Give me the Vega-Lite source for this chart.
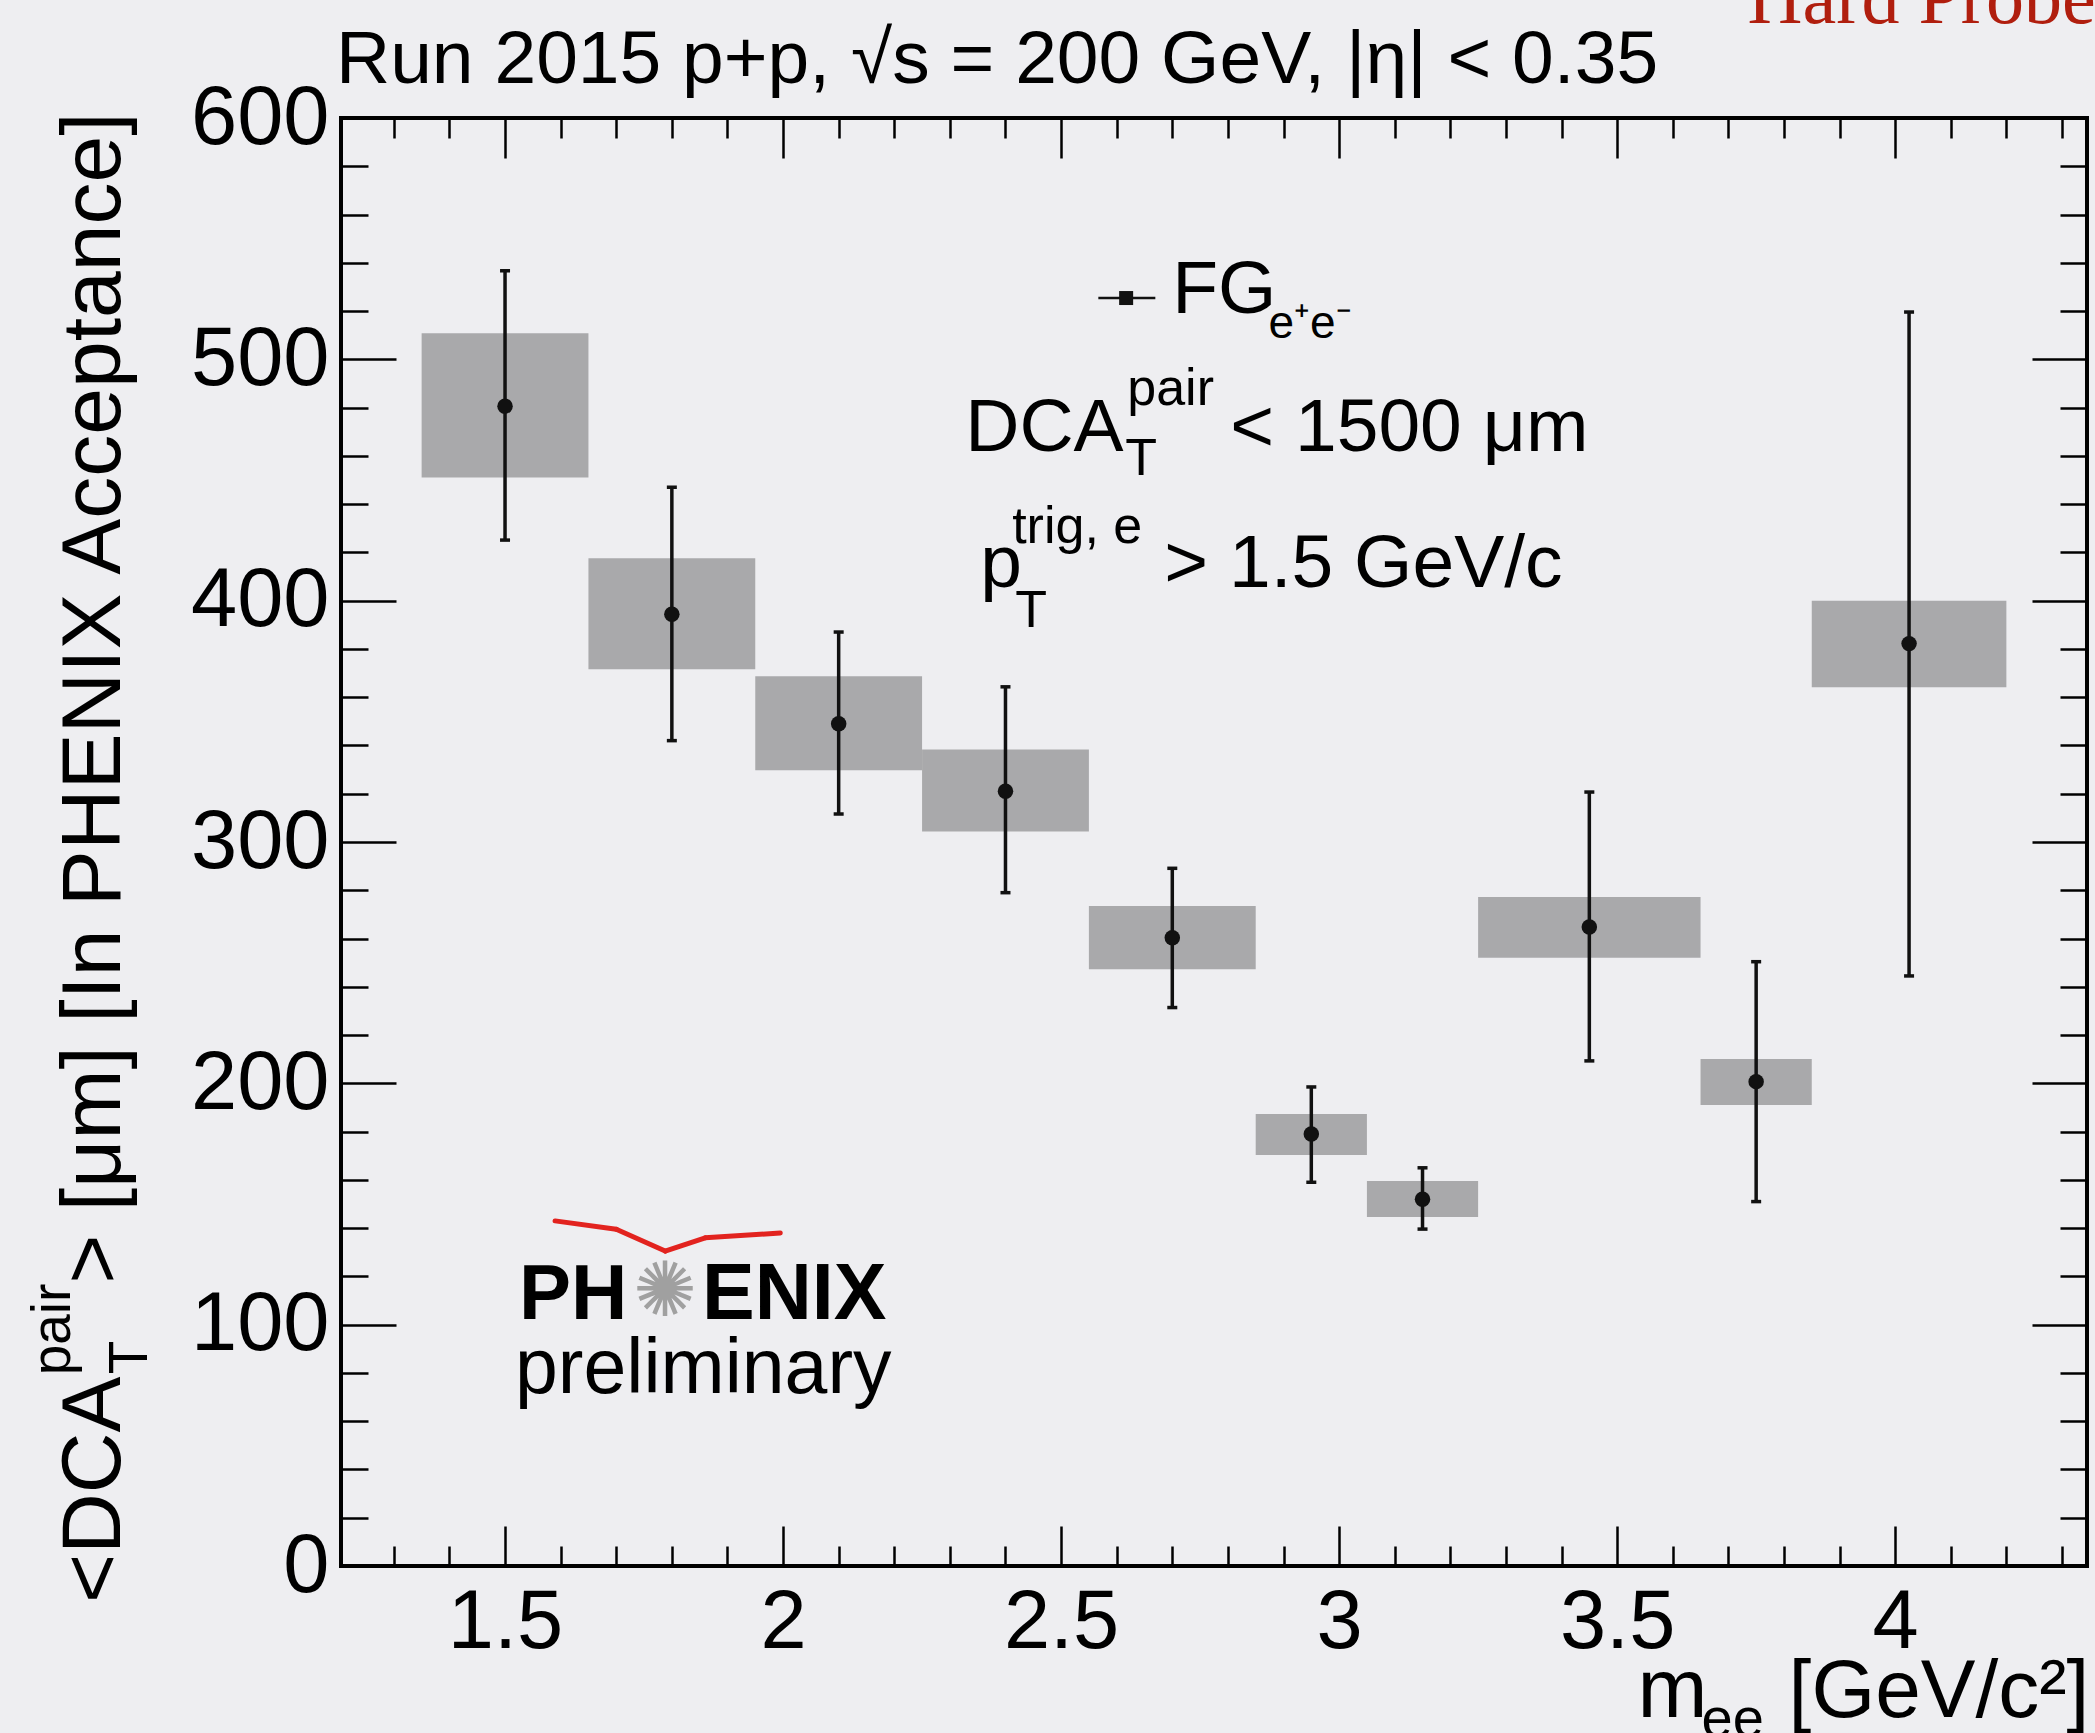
{
  "$schema": "https://vega.github.io/schema/vega-lite/v6.json",
  "width": 1746,
  "height": 1448,
  "autosize": "none",
  "padding": {"left": 341, "top": 118, "right": 8, "bottom": 167},
  "background": "#eeeef1",
  "config": {
    "view": {"stroke": "#000000", "strokeWidth": 4},
    "text": {"font": "Liberation Sans", "color": "#000000", "align": "left", "baseline": "alphabetic"}
  },
  "datasets": {
    "pts": [
      {"m": 1.5, "dca": 480.6, "stat_lo": 425.1, "stat_hi": 536.7, "m_lo": 1.35, "m_hi": 1.65, "sys_lo": 451.0, "sys_hi": 510.8},
      {"m": 1.8, "dca": 394.4, "stat_lo": 342.0, "stat_hi": 447.0, "m_lo": 1.65, "m_hi": 1.95, "sys_lo": 371.6, "sys_hi": 417.6},
      {"m": 2.1, "dca": 349.0, "stat_lo": 311.6, "stat_hi": 387.0, "m_lo": 1.95, "m_hi": 2.25, "sys_lo": 329.7, "sys_hi": 368.7},
      {"m": 2.4, "dca": 321.0, "stat_lo": 279.0, "stat_hi": 364.3, "m_lo": 2.25, "m_hi": 2.55, "sys_lo": 304.4, "sys_hi": 338.3},
      {"m": 2.7, "dca": 260.3, "stat_lo": 231.4, "stat_hi": 289.1, "m_lo": 2.55, "m_hi": 2.85, "sys_lo": 247.3, "sys_hi": 273.5},
      {"m": 2.95, "dca": 179.0, "stat_lo": 159.0, "stat_hi": 198.5, "m_lo": 2.85, "m_hi": 3.05, "sys_lo": 170.3, "sys_hi": 187.3},
      {"m": 3.15, "dca": 152.0, "stat_lo": 139.6, "stat_hi": 165.0, "m_lo": 3.05, "m_hi": 3.25, "sys_lo": 144.6, "sys_hi": 159.5},
      {"m": 3.45, "dca": 264.8, "stat_lo": 209.3, "stat_hi": 320.7, "m_lo": 3.25, "m_hi": 3.65, "sys_lo": 252.0, "sys_hi": 277.2},
      {"m": 3.75, "dca": 200.7, "stat_lo": 151.0, "stat_hi": 250.4, "m_lo": 3.65, "m_hi": 3.85, "sys_lo": 191.0, "sys_hi": 210.1},
      {"m": 4.025, "dca": 382.2, "stat_lo": 244.5, "stat_hi": 519.6, "m_lo": 3.85, "m_hi": 4.2, "sys_lo": 364.1, "sys_hi": 400.0}
    ]
  },
  "resolve": {"axis": {"x": "independent", "y": "independent"}},
  "layer": [
    {
      "data": {"name": "pts"},
      "mark": {"type": "rect", "fill": "#a9a9ab", "stroke": null},
      "encoding": {
        "x": {"field": "m_lo", "type": "quantitative",
          "scale": {"domain": [1.205, 4.345], "nice": false, "zero": false},
          "axis": {
            "orient": "bottom", "title": null, "domain": false, "grid": false,
            "values": [1.3,1.4,1.5,1.6,1.7,1.8,1.9,2.0,2.1,2.2,2.3,2.4,2.5,2.6,2.7,2.8,2.9,3.0,3.1,3.2,3.3,3.4,3.5,3.6,3.7,3.8,3.9,4.0,4.1,4.2,4.3],
            "tickColor": "#000000", "tickWidth": 2.5,
            "tickSize": {"condition": {"test": "abs(datum.value*2-round(datum.value*2))<0.001", "value": -40}, "value": -20},
            "labelExpr": "abs(datum.value*2-round(datum.value*2))<0.001 ? format(datum.value, '~g') : ''",
            "labelFont": "Liberation Sans", "labelFontSize": 83, "labelColor": "#000000",
            "labelPadding": 55, "labelFlush": false, "labelOverlap": false, "labelBound": false, "labelBaseline": "top"
          }
        },
        "x2": {"field": "m_hi"},
        "y": {"field": "sys_lo", "type": "quantitative",
          "scale": {"domain": [0, 600], "nice": false, "zero": false},
          "axis": {
            "orient": "left", "title": null, "domain": false, "grid": false,
            "values": [0,20,40,60,80,100,120,140,160,180,200,220,240,260,280,300,320,340,360,380,400,420,440,460,480,500,520,540,560,580,600],
            "tickColor": "#000000", "tickWidth": 2.5,
            "tickSize": {"condition": {"test": "datum.value % 100 === 0", "value": -55}, "value": -27},
            "labelExpr": "datum.value % 100 === 0 ? format(datum.value, '~g') : ''",
            "labelFont": "Liberation Sans", "labelFontSize": 83, "labelColor": "#000000",
            "labelPadding": 67, "labelFlush": false, "labelOverlap": false, "labelBound": false
          }
        },
        "y2": {"field": "sys_hi"}
      }
    },
    {
      "data": {"name": "pts"},
      "mark": {"type": "rule", "color": "#111111", "strokeWidth": 3.5},
      "encoding": {
        "x": {"field": "m", "type": "quantitative",
          "axis": {
            "orient": "top", "title": null, "domain": false, "grid": false, "labels": false,
            "values": [1.3,1.4,1.5,1.6,1.7,1.8,1.9,2.0,2.1,2.2,2.3,2.4,2.5,2.6,2.7,2.8,2.9,3.0,3.1,3.2,3.3,3.4,3.5,3.6,3.7,3.8,3.9,4.0,4.1,4.2,4.3],
            "tickColor": "#000000", "tickWidth": 2.5,
            "tickSize": {"condition": {"test": "abs(datum.value*2-round(datum.value*2))<0.001", "value": -40}, "value": -20}
          }
        },
        "y": {"field": "stat_lo", "type": "quantitative",
          "axis": {
            "orient": "right", "title": null, "domain": false, "grid": false, "labels": false,
            "values": [0,20,40,60,80,100,120,140,160,180,200,220,240,260,280,300,320,340,360,380,400,420,440,460,480,500,520,540,560,580,600],
            "tickColor": "#000000", "tickWidth": 2.5,
            "tickSize": {"condition": {"test": "datum.value % 100 === 0", "value": -55}, "value": -27}
          }
        },
        "y2": {"field": "stat_hi"}
      }
    },
    {
      "data": {"name": "pts"},
      "mark": {"type": "tick", "orient": "horizontal", "size": 10, "thickness": 3.5, "color": "#111111", "opacity": 1},
      "encoding": {
        "x": {"field": "m", "type": "quantitative", "axis": null},
        "y": {"field": "stat_hi", "type": "quantitative", "axis": null}
      }
    },
    {
      "data": {"name": "pts"},
      "mark": {"type": "tick", "orient": "horizontal", "size": 10, "thickness": 3.5, "color": "#111111", "opacity": 1},
      "encoding": {
        "x": {"field": "m", "type": "quantitative", "axis": null},
        "y": {"field": "stat_lo", "type": "quantitative", "axis": null}
      }
    },
    {
      "data": {"name": "pts"},
      "mark": {"type": "circle", "size": 240, "color": "#111111", "opacity": 1},
      "encoding": {
        "x": {"field": "m", "type": "quantitative", "axis": null},
        "y": {"field": "dca", "type": "quantitative", "axis": null}
      }
    },
    {
      "data": {"values": [{}]},
      "mark": {"type": "rule", "color": "#111111", "strokeWidth": 2.5},
      "encoding": {
        "x": {"datum": 2.567, "type": "quantitative", "axis": null},
        "x2": {"datum": 2.6695},
        "y": {"datum": 525.4, "type": "quantitative", "axis": null}
      }
    },
    {
      "data": {"values": [{}]},
      "mark": {"type": "square", "size": 196, "color": "#111111", "opacity": 1},
      "encoding": {
        "x": {"datum": 2.617, "type": "quantitative", "axis": null},
        "y": {"datum": 525.4, "type": "quantitative", "axis": null}
      }
    },
    {
      "data": {"values": [{}]},
      "mark": {"type": "rule", "color": "#e2231f", "strokeWidth": 5, "strokeCap": "round"},
      "encoding": {
        "x": {"datum": 1.590, "type": "quantitative", "axis": null},
        "x2": {"datum": 1.70},
        "y": {"datum": 143.0, "type": "quantitative", "axis": null},
        "y2": {"datum": 139.5}
      }
    },
    {
      "data": {"values": [{}]},
      "mark": {"type": "rule", "color": "#e2231f", "strokeWidth": 5, "strokeCap": "round"},
      "encoding": {
        "x": {"datum": 1.70, "type": "quantitative", "axis": null},
        "x2": {"datum": 1.788},
        "y": {"datum": 139.5, "type": "quantitative", "axis": null},
        "y2": {"datum": 130.5}
      }
    },
    {
      "data": {"values": [{}]},
      "mark": {"type": "rule", "color": "#e2231f", "strokeWidth": 5, "strokeCap": "round"},
      "encoding": {
        "x": {"datum": 1.788, "type": "quantitative", "axis": null},
        "x2": {"datum": 1.86},
        "y": {"datum": 130.5, "type": "quantitative", "axis": null},
        "y2": {"datum": 136.0}
      }
    },
    {
      "data": {"values": [{}]},
      "mark": {"type": "rule", "color": "#e2231f", "strokeWidth": 5, "strokeCap": "round"},
      "encoding": {
        "x": {"datum": 1.86, "type": "quantitative", "axis": null},
        "x2": {"datum": 1.995},
        "y": {"datum": 136.0, "type": "quantitative", "axis": null},
        "y2": {"datum": 138.0}
      }
    },
    {
      "data": {"values": [{}]},
      "mark": {"type": "text", "fontSize": 75},
      "encoding": {
        "x": {"datum": 1.196, "type": "quantitative", "axis": null},
        "y": {"datum": 614.5, "type": "quantitative", "axis": null},
        "text": {"value": "Run 2015 p+p, √s = 200 GeV, |η| < 0.35"}
      }
    },
    {
      "data": {"values": [{}]},
      "mark": {"type": "text", "fontSize": 76, "font": "Liberation Serif", "color": "#b01e0e"},
      "encoding": {
        "x": {"datum": 3.7346, "type": "quantitative", "axis": null},
        "y": {"datum": 639.4, "type": "quantitative", "axis": null},
        "text": {"value": "Hard Probes"}
      }
    },
    {
      "data": {"values": [{}]},
      "mark": {"type": "text", "fontSize": 75},
      "encoding": {
        "x": {"datum": 2.700, "type": "quantitative", "axis": null},
        "y": {"datum": 519.2, "type": "quantitative", "axis": null},
        "text": {"value": "FG"}
      }
    },
    {
      "data": {"values": [{}]},
      "mark": {"type": "text", "fontSize": 46},
      "encoding": {
        "x": {"datum": 2.8728, "type": "quantitative", "axis": null},
        "y": {"datum": 509.0, "type": "quantitative", "axis": null},
        "text": {"value": "e⁺e⁻"}
      }
    },
    {
      "data": {"values": [{}]},
      "mark": {"type": "text", "fontSize": 75},
      "encoding": {
        "x": {"datum": 2.3276, "type": "quantitative", "axis": null},
        "y": {"datum": 462.0, "type": "quantitative", "axis": null},
        "text": {"value": "DCA"}
      }
    },
    {
      "data": {"values": [{}]},
      "mark": {"type": "text", "fontSize": 52},
      "encoding": {
        "x": {"datum": 2.6155, "type": "quantitative", "axis": null},
        "y": {"datum": 452.1, "type": "quantitative", "axis": null},
        "text": {"value": "T"}
      }
    },
    {
      "data": {"values": [{}]},
      "mark": {"type": "text", "fontSize": 52},
      "encoding": {
        "x": {"datum": 2.619, "type": "quantitative", "axis": null},
        "y": {"datum": 481.1, "type": "quantitative", "axis": null},
        "text": {"value": "pair"}
      }
    },
    {
      "data": {"values": [{}]},
      "mark": {"type": "text", "fontSize": 75},
      "encoding": {
        "x": {"datum": 2.8044, "type": "quantitative", "axis": null},
        "y": {"datum": 462.0, "type": "quantitative", "axis": null},
        "text": {"value": "< 1500 μm"}
      }
    },
    {
      "data": {"values": [{}]},
      "mark": {"type": "text", "fontSize": 75},
      "encoding": {
        "x": {"datum": 2.3546, "type": "quantitative", "axis": null},
        "y": {"datum": 405.7, "type": "quantitative", "axis": null},
        "text": {"value": "p"}
      }
    },
    {
      "data": {"values": [{}]},
      "mark": {"type": "text", "fontSize": 52},
      "encoding": {
        "x": {"datum": 2.4176, "type": "quantitative", "axis": null},
        "y": {"datum": 389.1, "type": "quantitative", "axis": null},
        "text": {"value": "T"}
      }
    },
    {
      "data": {"values": [{}]},
      "mark": {"type": "text", "fontSize": 52},
      "encoding": {
        "x": {"datum": 2.412, "type": "quantitative", "axis": null},
        "y": {"datum": 423.9, "type": "quantitative", "axis": null},
        "text": {"value": "trig, e"}
      }
    },
    {
      "data": {"values": [{}]},
      "mark": {"type": "text", "fontSize": 75},
      "encoding": {
        "x": {"datum": 2.6857, "type": "quantitative", "axis": null},
        "y": {"datum": 405.7, "type": "quantitative", "axis": null},
        "text": {"value": "> 1.5 GeV/c"}
      }
    },
    {
      "data": {"values": [{}]},
      "mark": {"type": "text", "fontSize": 78, "fontWeight": "bold"},
      "encoding": {
        "x": {"datum": 1.5250, "type": "quantitative", "axis": null},
        "y": {"datum": 102.3, "type": "quantitative", "axis": null},
        "text": {"value": "PH"}
      }
    },
    {
      "data": {"values": [{}]},
      "mark": {"type": "text", "fontSize": 76, "font": "DejaVu Sans", "color": "#a0a0a0", "align": "center", "baseline": "middle"},
      "encoding": {
        "x": {"datum": 1.788, "type": "quantitative", "axis": null},
        "y": {"datum": 113.1, "type": "quantitative", "axis": null},
        "text": {"value": "✺"}
      }
    },
    {
      "data": {"values": [{}]},
      "mark": {"type": "text", "fontSize": 79, "fontWeight": "bold"},
      "encoding": {
        "x": {"datum": 1.8544, "type": "quantitative", "axis": null},
        "y": {"datum": 102.3, "type": "quantitative", "axis": null},
        "text": {"value": "ENIX"}
      }
    },
    {
      "data": {"values": [{}]},
      "mark": {"type": "text", "fontSize": 77},
      "encoding": {
        "x": {"datum": 1.5180, "type": "quantitative", "axis": null},
        "y": {"datum": 71.7, "type": "quantitative", "axis": null},
        "text": {"value": "preliminary"}
      }
    },
    {
      "data": {"values": [{}]},
      "mark": {"type": "text", "fontSize": 84, "angle": 270},
      "encoding": {
        "x": {"datum": 0.8073, "type": "quantitative", "axis": null},
        "y": {"datum": -15.33, "type": "quantitative", "axis": null},
        "text": {"value": "<DCA"}
      }
    },
    {
      "data": {"values": [{}]},
      "mark": {"type": "text", "fontSize": 55, "angle": 270},
      "encoding": {
        "x": {"datum": 0.8559, "type": "quantitative", "axis": null},
        "y": {"datum": 79.5, "type": "quantitative", "axis": null},
        "text": {"value": "T"}
      }
    },
    {
      "data": {"values": [{}]},
      "mark": {"type": "text", "fontSize": 55, "angle": 270},
      "encoding": {
        "x": {"datum": 0.7173, "type": "quantitative", "axis": null},
        "y": {"datum": 79.0, "type": "quantitative", "axis": null},
        "text": {"value": "pair"}
      }
    },
    {
      "data": {"values": [{}]},
      "mark": {"type": "text", "fontSize": 84, "angle": 270},
      "encoding": {
        "x": {"datum": 0.8073, "type": "quantitative", "axis": null},
        "y": {"datum": 117.0, "type": "quantitative", "axis": null},
        "text": {"value": "> [μm] [In PHENIX Acceptance]"}
      }
    },
    {
      "data": {"values": [{}]},
      "mark": {"type": "text", "fontSize": 84},
      "encoding": {
        "x": {"datum": 3.5367, "type": "quantitative", "axis": null},
        "y": {"datum": -62.57, "type": "quantitative", "axis": null},
        "text": {"value": "m"}
      }
    },
    {
      "data": {"values": [{}]},
      "mark": {"type": "text", "fontSize": 56},
      "encoding": {
        "x": {"datum": 3.6519, "type": "quantitative", "axis": null},
        "y": {"datum": -71.0, "type": "quantitative", "axis": null},
        "text": {"value": "ee"}
      }
    },
    {
      "data": {"values": [{}]},
      "mark": {"type": "text", "fontSize": 82},
      "encoding": {
        "x": {"datum": 3.8084, "type": "quantitative", "axis": null},
        "y": {"datum": -62.57, "type": "quantitative", "axis": null},
        "text": {"value": "[GeV/c²]"}
      }
    }
  ]
}
